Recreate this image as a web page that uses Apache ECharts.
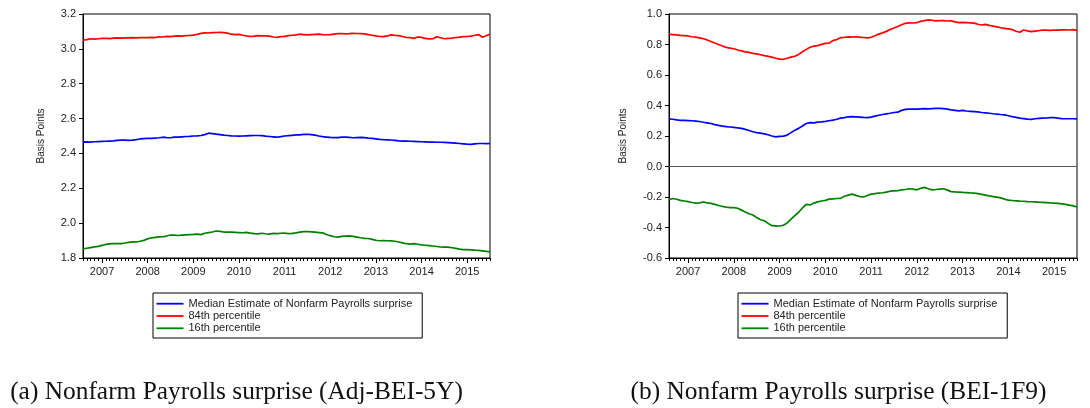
<!DOCTYPE html>
<html>
<head>
<meta charset="utf-8">
<title>Nonfarm Payrolls surprise</title>
<script src="https://cdn.jsdelivr.net/npm/echarts@6/dist/echarts.min.js"></script>
<style>
  html, body { margin: 0; padding: 0; background: #fff; }
  #chart { width: 1090px; height: 408px; }
</style>
</head>
<body>
<div id="chart"></div>
<script>
// Monthly observations, August 2006 through July 2015 (108 months)
const startYear = 2006, startMonth = 8, monthCount = 108;
const months = [];
for (let i = 0; i < monthCount; i++) {
  const m = startMonth - 1 + i;
  const y = startYear + Math.floor(m / 12);
  months.push(y + '-' + String((m % 12) + 1).padStart(2, '0'));
}

const seriesNames = ['Median Estimate of Nonfarm Payrolls surprise', '84th percentile', '16th percentile'];
const captions = ['(a) Nonfarm Payrolls surprise (Adj-BEI-5Y)', '(b) Nonfarm Payrolls surprise (BEI-1F9)'];
const yTitle = 'Basis Points';

// Panel (a): Adj-BEI-5Y
const adjMedian = [
  2.465, 2.466, 2.465, 2.467, 2.468, 2.469, 2.470, 2.471, 2.472, 2.475, 2.476, 2.476,
  2.475, 2.476, 2.479, 2.483, 2.485, 2.487, 2.486, 2.488, 2.490, 2.493, 2.491, 2.490,
  2.494, 2.493, 2.495, 2.497, 2.498, 2.500, 2.501, 2.503, 2.508, 2.516, 2.514, 2.511,
  2.508, 2.505, 2.503, 2.501, 2.500, 2.499, 2.500, 2.501, 2.502, 2.503, 2.503, 2.502,
  2.499, 2.497, 2.495, 2.493, 2.496, 2.500, 2.502, 2.504, 2.506, 2.507, 2.509, 2.510,
  2.508, 2.505, 2.500, 2.496, 2.494, 2.492, 2.491, 2.491, 2.493, 2.494, 2.492, 2.490,
  2.491, 2.492, 2.491, 2.488, 2.486, 2.484, 2.481, 2.479, 2.478, 2.477, 2.475, 2.472,
  2.471, 2.471, 2.470, 2.469, 2.468, 2.467, 2.466, 2.465, 2.465, 2.464, 2.464, 2.463,
  2.462, 2.461, 2.459, 2.457, 2.455, 2.453, 2.452, 2.455, 2.457, 2.457, 2.456, 2.457
];
const adjP84 = [
  3.050, 3.053, 3.058, 3.056, 3.058, 3.060, 3.061, 3.059, 3.062, 3.063, 3.062, 3.063,
  3.063, 3.064, 3.063, 3.065, 3.064, 3.064, 3.066, 3.065, 3.069, 3.068, 3.072, 3.070,
  3.073, 3.075, 3.073, 3.076, 3.077, 3.079, 3.083, 3.089, 3.092, 3.091, 3.093, 3.094,
  3.095, 3.093, 3.090, 3.084, 3.082, 3.083, 3.078, 3.074, 3.071, 3.073, 3.076, 3.074,
  3.074, 3.073, 3.068, 3.066, 3.070, 3.072, 3.076, 3.078, 3.080, 3.084, 3.082, 3.080,
  3.082, 3.083, 3.084, 3.082, 3.081, 3.082, 3.085, 3.087, 3.088, 3.086, 3.087, 3.089,
  3.088, 3.087, 3.086, 3.082, 3.078, 3.074, 3.071, 3.070, 3.074, 3.080, 3.077, 3.076,
  3.071, 3.066, 3.064, 3.060, 3.068, 3.066, 3.060, 3.057, 3.058, 3.070, 3.064, 3.058,
  3.060, 3.062, 3.065, 3.067, 3.070, 3.071, 3.073, 3.078, 3.082, 3.067, 3.075, 3.084
];
const adjP16 = [
  1.852, 1.856, 1.860, 1.864, 1.867, 1.872, 1.878, 1.881, 1.882, 1.882, 1.883, 1.886,
  1.890, 1.893, 1.892, 1.896, 1.901, 1.910, 1.916, 1.918, 1.921, 1.922, 1.926, 1.932,
  1.931, 1.929, 1.931, 1.933, 1.934, 1.935, 1.937, 1.934, 1.942, 1.946, 1.949, 1.955,
  1.953, 1.949, 1.948, 1.948, 1.947, 1.946, 1.945, 1.947, 1.943, 1.940, 1.938, 1.942,
  1.939, 1.937, 1.941, 1.940, 1.942, 1.943, 1.940, 1.941, 1.944, 1.948, 1.951, 1.952,
  1.950, 1.948, 1.946, 1.944, 1.935, 1.928, 1.922, 1.920, 1.924, 1.926, 1.927, 1.924,
  1.920, 1.916, 1.913, 1.912, 1.907, 1.902, 1.899, 1.900, 1.899, 1.898, 1.896, 1.892,
  1.887, 1.882, 1.880, 1.882, 1.879, 1.875, 1.873, 1.871, 1.869, 1.866, 1.863, 1.862,
  1.862, 1.859, 1.855, 1.851, 1.848, 1.848, 1.847, 1.845, 1.844, 1.841, 1.838, 1.835
];

// Panel (b): BEI-1F9
const beiMedian = [
  0.312, 0.310, 0.306, 0.303, 0.302, 0.301, 0.300, 0.298, 0.295, 0.290, 0.286, 0.282,
  0.275, 0.270, 0.265, 0.262, 0.259, 0.256, 0.253, 0.250, 0.243, 0.236, 0.228, 0.222,
  0.219, 0.214, 0.208, 0.200, 0.194, 0.197, 0.199, 0.206, 0.222, 0.238, 0.250, 0.266,
  0.282, 0.288, 0.286, 0.291, 0.293, 0.296, 0.300, 0.304, 0.310, 0.317, 0.320, 0.326,
  0.327, 0.326, 0.324, 0.322, 0.321, 0.324, 0.330, 0.336, 0.341, 0.345, 0.349, 0.354,
  0.356, 0.368, 0.375, 0.376, 0.377, 0.376, 0.378, 0.379, 0.378, 0.380, 0.381, 0.381,
  0.380, 0.376, 0.371, 0.368, 0.365, 0.368, 0.364, 0.362, 0.360, 0.358, 0.354, 0.352,
  0.349, 0.346, 0.344, 0.341, 0.339, 0.333, 0.327, 0.322, 0.317, 0.314, 0.311, 0.309,
  0.313, 0.316, 0.317, 0.318, 0.320, 0.321, 0.317, 0.314, 0.313, 0.313, 0.313, 0.312
];
const beiP84 = [
  0.867, 0.865, 0.863, 0.860, 0.858, 0.856, 0.851, 0.848, 0.843, 0.838, 0.830, 0.820,
  0.810, 0.800, 0.790, 0.781, 0.776, 0.772, 0.764, 0.758, 0.752, 0.748, 0.742, 0.738,
  0.733, 0.727, 0.722, 0.717, 0.710, 0.704, 0.703, 0.710, 0.717, 0.723, 0.735, 0.752,
  0.768, 0.782, 0.789, 0.793, 0.801, 0.807, 0.809, 0.826, 0.832, 0.845, 0.847, 0.850,
  0.849, 0.851, 0.848, 0.846, 0.843, 0.847, 0.857, 0.868, 0.876, 0.886, 0.898, 0.908,
  0.918, 0.930, 0.939, 0.942, 0.941, 0.943, 0.952, 0.957, 0.961, 0.959, 0.955, 0.957,
  0.956, 0.954, 0.955, 0.948, 0.943, 0.945, 0.944, 0.942, 0.940, 0.933, 0.928, 0.932,
  0.925, 0.920, 0.916, 0.910, 0.906, 0.902, 0.898, 0.887, 0.880, 0.895, 0.889, 0.884,
  0.888, 0.891, 0.895, 0.894, 0.893, 0.895, 0.894, 0.896, 0.896, 0.895, 0.897, 0.893
];
const beiP16 = [
  -0.218, -0.210, -0.215, -0.222, -0.226, -0.230, -0.236, -0.240, -0.238, -0.233, -0.238, -0.242,
  -0.248, -0.256, -0.262, -0.267, -0.270, -0.270, -0.274, -0.286, -0.298, -0.310, -0.318, -0.335,
  -0.349, -0.356, -0.373, -0.388, -0.389, -0.390, -0.385, -0.370, -0.345, -0.322, -0.300, -0.272,
  -0.248, -0.252, -0.240, -0.232, -0.226, -0.222, -0.214, -0.212, -0.210, -0.209, -0.195, -0.188,
  -0.181, -0.189, -0.197, -0.200, -0.190, -0.181, -0.178, -0.174, -0.172, -0.168, -0.162, -0.160,
  -0.159, -0.153, -0.151, -0.146, -0.148, -0.153, -0.143, -0.137, -0.146, -0.153, -0.151, -0.148,
  -0.146, -0.155, -0.165, -0.167, -0.168, -0.170, -0.171, -0.173, -0.174, -0.178, -0.183, -0.188,
  -0.193, -0.197, -0.201, -0.206, -0.214, -0.221, -0.223, -0.225, -0.227, -0.228, -0.230, -0.231,
  -0.232, -0.234, -0.235, -0.237, -0.239, -0.240, -0.242, -0.245, -0.248, -0.253, -0.258, -0.266
];

const lineColors = ['#0000ff', '#ff0000', '#008000'];
const font = '"Liberation Sans", Arial, sans-serif';
const captionFont = '25.4px "Liberation Serif", "Times New Roman", serif';
const isJanuary = (idx) => months[idx].endsWith('-01');

const grids = [
  { left: 83, top: 14, width: 407, height: 244 },
  { left: 669, top: 14, width: 408, height: 244 }
];

function xAxesFor(gridIndex) {
  return [
    { // monthly minor ticks
      type: 'category', gridIndex, data: months, boundaryGap: false, position: 'bottom',
      axisLine: { onZero: false, lineStyle: { color: '#000', width: 1 } },
      axisTick: { interval: 0, length: 3, lineStyle: { color: '#000' } },
      axisLabel: { show: false }, splitLine: { show: false }
    },
    { // yearly major ticks with labels
      type: 'category', gridIndex, data: months, boundaryGap: false, position: 'bottom',
      axisLine: { show: false, onZero: false },
      axisTick: { interval: (i) => isJanuary(i), length: 5, lineStyle: { color: '#000' } },
      axisLabel: {
        interval: (i) => isJanuary(i), margin: 8,
        formatter: (v) => v.slice(0, 4),
        color: '#222', fontSize: 11, fontFamily: font
      },
      splitLine: { show: false }
    }
  ];
}

function yAxisFor(gridIndex, min, max, nameGap) {
  return {
    type: 'value', gridIndex, min, max, interval: 0.2,
    name: yTitle, nameLocation: 'middle', nameGap, nameRotate: 90,
    nameTextStyle: { color: '#222', fontSize: 10, fontFamily: font },
    axisLine: { show: true, onZero: false, lineStyle: { color: '#000', width: 1 } },
    axisTick: { show: true, length: 4, lineStyle: { color: '#000' } },
    axisLabel: { formatter: (v) => v.toFixed(1), margin: 7, color: '#222', fontSize: 11, fontFamily: font },
    splitLine: { show: false }
  };
}

function lineSeries(name, data, xAxisIndex, yAxisIndex, color, extra) {
  return Object.assign({
    type: 'line', name, data, xAxisIndex, yAxisIndex,
    symbol: 'none', smooth: false, animation: false,
    lineStyle: { color, width: 1.7 }, itemStyle: { color }
  }, extra || {});
}

const legendBase = {
  orient: 'vertical', top: 293, icon: 'rect', itemWidth: 27, itemHeight: 1.8, itemGap: 0.3,
  padding: [4.7, 10, 3.7, 3.5], borderColor: '#000', borderWidth: 1,
  textStyle: { color: '#222', fontSize: 11, lineHeight: 12, fontFamily: font }, data: seriesNames
};

const option = {
  backgroundColor: '#fff',
  animation: false,
  grid: grids.map(g => Object.assign({ show: true, borderColor: '#000', borderWidth: 1, backgroundColor: 'transparent' }, g)),
  xAxis: [...xAxesFor(0), ...xAxesFor(1)],
  yAxis: [yAxisFor(0, 1.8, 3.2, 37), yAxisFor(1, -0.6, 1.0, 41)],
  legend: [
    Object.assign({}, legendBase, { left: 153 }),
    Object.assign({}, legendBase, { left: 738 })
  ],
  series: [
    lineSeries(seriesNames[0], adjMedian, 1, 0, lineColors[0]),
    lineSeries(seriesNames[1], adjP84, 1, 0, lineColors[1]),
    lineSeries(seriesNames[2], adjP16, 1, 0, lineColors[2]),
    lineSeries(seriesNames[0], beiMedian, 3, 1, lineColors[0], {
      markLine: {
        silent: true, symbol: 'none', label: { show: false },
        lineStyle: { color: '#555', width: 1, type: 'solid' },
        data: [{ yAxis: 0 }]
      }
    }),
    lineSeries(seriesNames[1], beiP84, 3, 1, lineColors[1]),
    lineSeries(seriesNames[2], beiP16, 3, 1, lineColors[2])
  ],
  graphic: [
    { type: 'text', x: 236.5, y: 392, style: { text: captions[0], font: captionFont, fill: '#111', align: 'center', verticalAlign: 'middle' } },
    { type: 'text', x: 838.5, y: 392, style: { text: captions[1], font: captionFont, fill: '#111', align: 'center', verticalAlign: 'middle' } }
  ]
};

const chart = echarts.init(document.getElementById('chart'), null, { renderer: 'canvas' });
chart.setOption(option);
</script>
</body>
</html>
